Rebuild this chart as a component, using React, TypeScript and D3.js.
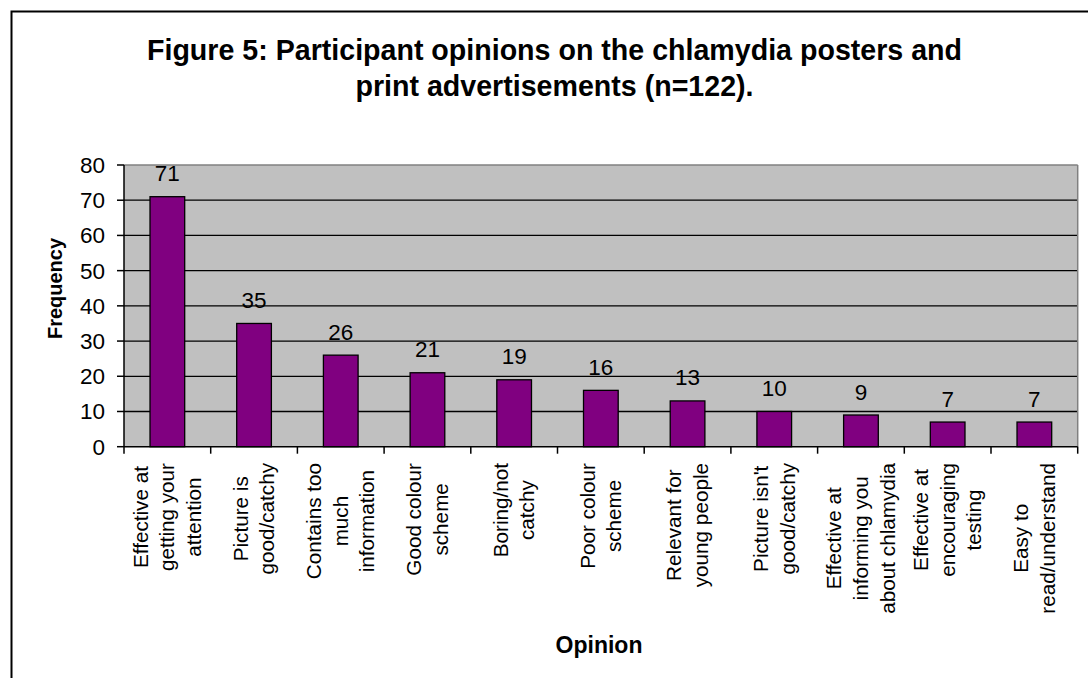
import React from "react";
import * as d3 from "d3";

const categories: string[][] = [
  ["Effective at", "getting your", "attention"],
  ["Picture is", "good/catchy"],
  ["Contains too", "much", "information"],
  ["Good colour", "scheme"],
  ["Boring/not", "catchy"],
  ["Poor colour", "scheme"],
  ["Relevant for", "young people"],
  ["Picture isn't", "good/catchy"],
  ["Effective at", "informing you", "about chlamydia"],
  ["Effective at", "encouraging", "testing"],
  ["Easy to", "read/understand"],
];
const values: number[] = [71, 35, 26, 21, 19, 16, 13, 10, 9, 7, 7];
const yTicks: number[] = [0, 10, 20, 30, 40, 50, 60, 70, 80];
const titleLines: string[] = [
  "Figure 5: Participant opinions on the chlamydia posters and",
  "print advertisements (n=122).",
];
const xTitle = "Opinion";
const yTitle = "Frequency";

const FONT = "'Liberation Sans', Arial, sans-serif";
const LABEL_SIZE = 20.7;
const TICK_SIZE = 22.5;

let ctx: CanvasRenderingContext2D | null = null;
function measure(t: string, size: number): number {
  if (!ctx) {
    const c = document.createElement("canvas");
    ctx = c.getContext("2d");
  }
  if (!ctx) return t.length * size * 0.5;
  ctx.font = `${size}px 'Liberation Sans'`;
  return ctx.measureText(t).width;
}

export default function App() {
  const W = 1088;
  const H = 678;
  const left = 124;
  const right = 1077.7;
  const top = 165;
  const bottom = 446.7;

  const x = d3
    .scaleBand<number>()
    .domain(d3.range(values.length))
    .range([left, right])
    .paddingInner(0.6)
    .paddingOuter(0.3);
  const xc = d3
    .scaleBand<number>()
    .domain(d3.range(values.length))
    .range([left, right]);
  const y = d3.scaleLinear().domain([0, 80]).range([bottom, top]);

  const lineGap = 26.6;
  const labelTop = 463;

  return (
    <svg
      width={W}
      height={H}
      style={{ position: "absolute", left: 0, top: 0, background: "#fff" }}
      fontFamily={FONT}
    >
      <rect x={0} y={0} width={W} height={H} fill="#fff" />
      <rect x={11.5} y={11.5} width={1200} height={800} fill="none" stroke="#000" strokeWidth={2} />

      {titleLines.map((t, i) => (
        <text
          key={i}
          x={554.5}
          y={59.5 + i * 36}
          textAnchor="middle"
          fontWeight="bold"
          fontSize={28.6}
          fill="#000"
        >
          {t}
        </text>
      ))}

      <rect x={left} y={top} width={right - left} height={bottom - top} fill="#C0C0C0" />
      {yTicks.slice(1, -1).map((t) => (
        <line key={t} x1={left} x2={right} y1={y(t)} y2={y(t)} stroke="#000" strokeWidth={1.3} />
      ))}
      <line x1={left} x2={right} y1={top} y2={top} stroke="#808080" strokeWidth={1.5} />
      <line x1={right} x2={right} y1={top} y2={bottom} stroke="#808080" strokeWidth={1.5} />

      {values.map((v, i) => (
        <rect
          key={i}
          x={x(i)!}
          y={y(v)}
          width={x.bandwidth()}
          height={bottom - y(v)}
          fill="#800080"
          stroke="#000"
          strokeWidth={1.3}
        />
      ))}

      {values.map((v, i) => (
        <text
          key={i}
          x={x(i)! + x.bandwidth() / 2}
          y={y(v) - 15.5}
          textAnchor="middle"
          fontSize={TICK_SIZE}
          fill="#000"
        >
          {v}
        </text>
      ))}

      <line x1={left} x2={left} y1={top} y2={bottom} stroke="#000" strokeWidth={1.5} />
      <line x1={left} x2={right} y1={bottom} y2={bottom} stroke="#000" strokeWidth={1.5} />
      {yTicks.map((t) => (
        <g key={t}>
          <line x1={left - 7} x2={left} y1={y(t)} y2={y(t)} stroke="#000" strokeWidth={1.5} />
          <text x={105} y={y(t) + 8} textAnchor="end" fontSize={TICK_SIZE} fill="#000">
            {t}
          </text>
        </g>
      ))}
      {d3.range(values.length + 1).map((i) => {
        const xx = i < values.length ? xc(i)! : right;
        return <line key={i} x1={xx} x2={xx} y1={bottom} y2={bottom + 7} stroke="#000" strokeWidth={1.5} />;
      })}

      {categories.map((lines, i) => {
        const cx = xc(i)! + xc.bandwidth() / 2;
        const maxW = Math.max(...lines.map((l) => measure(l, LABEL_SIZE)));
        const cy = labelTop + maxW / 2;
        const n = lines.length;
        return (
          <g key={i}>
            {lines.map((l, j) => {
              const bx = cx + (j - (n - 1) / 2) * lineGap + 7;
              return (
                <text
                  key={j}
                  transform={`translate(${bx},${cy}) rotate(-90)`}
                  textAnchor="middle"
                  fontSize={LABEL_SIZE}
                  fill="#000"
                >
                  {l}
                </text>
              );
            })}
          </g>
        );
      })}

      <text x={599} y={653} textAnchor="middle" fontWeight="bold" fontSize={23} fill="#000">
        {xTitle}
      </text>
      <text
        transform={`translate(${62},${288.5}) rotate(-90)`}
        textAnchor="middle"
        fontWeight="bold"
        fontSize={20}
        fill="#000"
      >
        {yTitle}
      </text>
    </svg>
  );
}
